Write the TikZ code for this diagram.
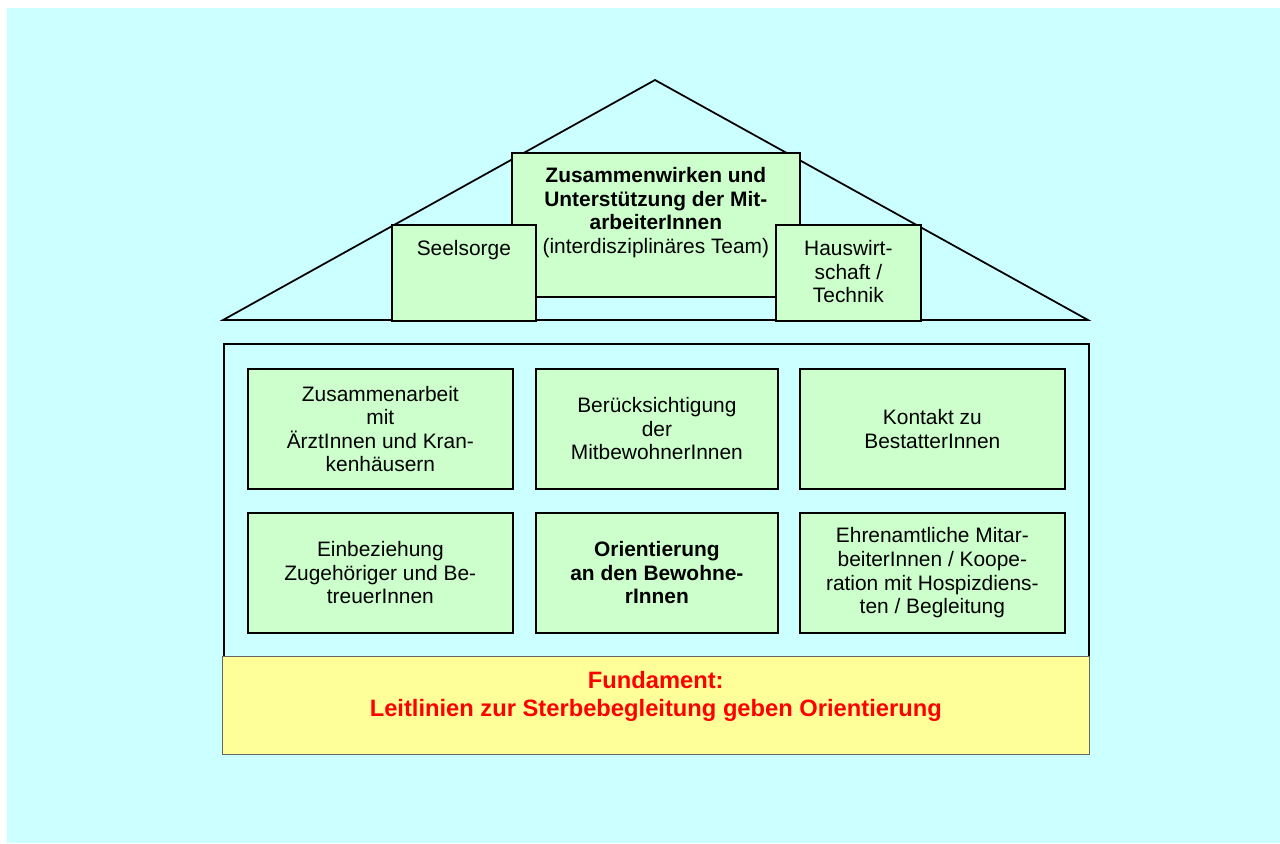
\documentclass[tikz,border=0pt]{standalone}
\usepackage{fontspec}
\setmainfont{Liberation Sans}
\usetikzlibrary{positioning}
\definecolor{skycyan}{HTML}{CCFFFF}
\definecolor{boxgreen}{HTML}{CCFFCC}
\definecolor{baseyellow}{HTML}{FFFF99}
\tikzset{
	pillar/.style={draw, fill=boxgreen, line width=1pt, inner sep=0pt, anchor=north west},
	boxtext/.style={align=center, inner sep=0pt, font=\fontsize{11.9}{13.4}\selectfont},
	basetext/.style={align=center, inner sep=0pt, text=red, font=\fontsize{13.5}{15.9}\selectfont\bfseries}
}

\begin{document}
\begin{tikzpicture}[x=0.02cm,y=-0.02cm]
	%Background
	\useasboundingbox (0,0) rectangle (1280,843);
	\fill [skycyan] (7,8) rectangle (1280,843);
	%Roof
	\coordinate (roofL) at (223,320);
	\coordinate (roofTop) at (655,80);
	\coordinate (roofR) at (1088,320);
	\draw [line width=1pt] (roofL) to (roofTop) to (roofR) to cycle;
	%Roof boxes
	\node [pillar, minimum width=5.76cm, minimum height=2.88cm] (team) at (511,152) {};
	\node [boxtext, anchor=north] (teamtext) at ([yshift=-0.3cm]team.north)
	{\textbf{Zusammenwirken und}\\\textbf{Unterstützung der Mit-}\\\textbf{arbeiterInnen}\\(interdisziplinäres Team)};
	\node [pillar, minimum width=2.88cm, minimum height=1.92cm] (seelsorge) at (391,224) {};
	\node [boxtext, anchor=north] (seelsorgetext) at ([yshift=-0.32cm]seelsorge.north) {Seelsorge};
	\node [pillar, minimum width=2.9cm, minimum height=1.92cm] (haus) at (775,224) {};
	\node [boxtext, anchor=north] (haustext) at ([yshift=-0.32cm]haus.north) {Hauswirt-\\schaft /\\Technik};
	%House body
	\node [draw, line width=1pt, inner sep=0pt, anchor=north west, minimum width=17.3cm, minimum height=8.2cm] (body) at (223,343) {};
	%Fundament
	\node [draw=black!60, fill=baseyellow, inner sep=0pt, anchor=north west, minimum width=17.34cm, minimum height=1.96cm] (base) at (222,656) {};
	\node [basetext, anchor=north] (basetext) at ([yshift=-0.3cm]base.north)
	{Fundament:\\Leitlinien zur Sterbebegleitung geben Orientierung};
	%Inner boxes
	\node [pillar, boxtext, minimum width=5.3cm, minimum height=2.4cm] (aerzte) at (247,368)
	{Zusammenarbeit\\mit\\ÄrztInnen und Kran-\\kenhäusern};
	\node [pillar, boxtext, minimum width=4.84cm, minimum height=2.4cm] (mitbew) at (535,368)
	{Berücksichtigung\\der\\MitbewohnerInnen};
	\node [pillar, boxtext, minimum width=5.3cm, minimum height=2.4cm] (bestatter) at (799,368)
	{Kontakt zu\\BestatterInnen};
	\node [pillar, boxtext, minimum width=5.3cm, minimum height=2.4cm] (angeh) at (247,512)
	{Einbeziehung\\Zugehöriger und Be-\\treuerInnen};
	\node [pillar, boxtext, minimum width=4.84cm, minimum height=2.4cm] (bewohner) at (535,512)
	{\textbf{Orientierung}\\\textbf{an den Bewohne-}\\\textbf{rInnen}};
	\node [pillar, boxtext, minimum width=5.3cm, minimum height=2.4cm] (ehrenamt) at (799,512)
	{Ehrenamtliche Mitar-\\beiterInnen / Koope-\\ration mit Hospizdiens-\\ten / Begleitung};
\end{tikzpicture}
\end{document}
